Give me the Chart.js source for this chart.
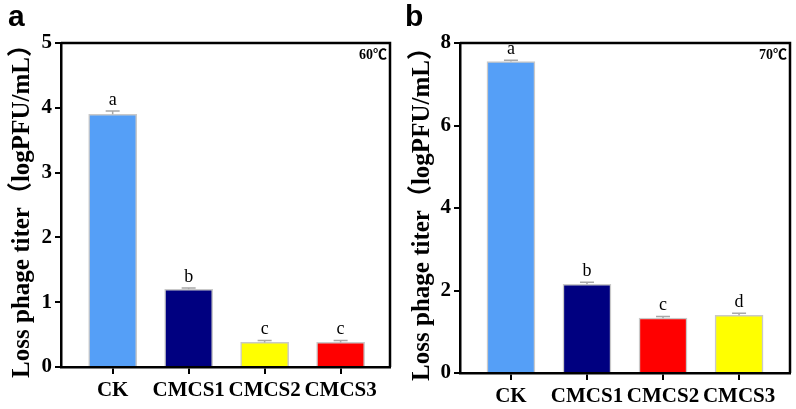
<!DOCTYPE html>
<html>
<head>
<meta charset="utf-8">
<script src="https://cdn.jsdelivr.net/npm/chart.js@4.4.1/dist/chart.umd.min.js"></script>
<style>
  body { margin: 0; background: #fff; }
  canvas { position: absolute; top: 0; }
  #chartA { left: 0; }
  #chartB { left: 400px; }
</style>
</head>
<body>
<canvas id="chartA" width="400" height="409"></canvas>
<canvas id="chartB" width="396" height="409"></canvas>
<script>
// data
const groups = ['CK', 'CMCS1', 'CMCS2', 'CMCS3'];

const values60 = [3.9, 1.2, 0.38, 0.38];
const errors60 = [0.05, 0.02, 0.03, 0.03];
const letters60 = ['a', 'b', 'c', 'c'];
const colors60 = ['#559ff7', '#000080', '#ffff00', '#ff0000'];
const ticks60 = [0, 1, 2, 3, 4, 5];

const values70 = [7.55, 2.15, 1.33, 1.4];
const errors70 = [0.03, 0.05, 0.04, 0.05];
const letters70 = ['a', 'b', 'c', 'd'];
const colors70 = ['#559ff7', '#000080', '#ff0000', '#ffff00'];
const ticks70 = [0, 2, 4, 6, 8];

const serif = '"Liberation Serif", "Times New Roman", "Noto Sans CJK SC", serif';

const extrasPlugin = {
    id: 'extras',
    afterDatasetsDraw(chart, args, opts) {
        const ctx = chart.ctx;
        const xs = chart.scales.x;
        const ys = chart.scales.y;
        ctx.save();
        opts.values.forEach((v, i) => {
            const x = xs.getPixelForValue(i);
            const yBar = ys.getPixelForValue(v);
            const yTop = ys.getPixelForValue(v + opts.errors[i]);
            ctx.strokeStyle = '#a8a8a8';
            ctx.lineWidth = 1.5;
            ctx.beginPath();
            ctx.moveTo(x, yBar);
            ctx.lineTo(x, yTop);
            ctx.moveTo(x - 7, yTop);
            ctx.lineTo(x + 7, yTop);
            ctx.stroke();
            ctx.fillStyle = '#000';
            ctx.font = '18px ' + serif;
            ctx.textAlign = 'center';
            ctx.textBaseline = 'bottom';
            ctx.fillText(opts.letters[i], x, yTop - 2);
        });
        ctx.restore();
    },
    afterDraw(chart, args, opts) {
        const ctx = chart.ctx;
        const a = chart.chartArea;
        ctx.save();
        ctx.strokeStyle = '#000';
        ctx.lineWidth = 2.5;
        ctx.beginPath();
        ctx.moveTo(a.left, a.top);
        ctx.lineTo(a.right, a.top);
        ctx.lineTo(a.right, a.bottom);
        ctx.stroke();
        ctx.fillStyle = '#000';
        ctx.font = 'bold 14px ' + serif;
        ctx.textAlign = 'right';
        ctx.textBaseline = 'top';
        ctx.fillText(opts.temp, a.right - 3, a.top + 5);
        ctx.font = 'bold 30px "Liberation Sans", Arial, sans-serif';
        ctx.textAlign = 'left';
        ctx.fillText(opts.panel, opts.panelX, 3);
        ctx.restore();
    }
};

function makeConfig(values, errors, letters, colors, yTicks, o) {
    return {
        type: 'bar',
        data: {
            datasets: [{
                data: values.map((v, i) => ({ x: i, y: v })),
                backgroundColor: colors,
                borderColor: '#c9c9c9',
                borderWidth: 1.5,
                barThickness: 48
            }]
        },
        options: {
            responsive: false,
            animation: false,
            layout: { padding: { top: 43, right: o.right, left: 0, bottom: 0 } },
            plugins: {
                legend: { display: false },
                tooltip: { enabled: false },
                extras: { values: values, errors: errors, letters: letters, temp: o.temp, panel: o.panel, panelX: o.panelX }
            },
            scales: {
                x: {
                    type: 'linear',
                    offset: false,
                    min: o.xmin,
                    max: o.xmax,
                    afterBuildTicks: s => { s.ticks = groups.map((g, i) => ({ value: i })); },
                    afterFit: s => { s.height = o.xHeight; },
                    border: { color: '#000', width: 2.5 },
                    grid: { offset: false, drawOnChartArea: false, color: '#000', lineWidth: 2, tickLength: 7 },
                    ticks: {
                        color: '#000',
                        padding: 4,
                        maxRotation: 0,
                        autoSkip: false,
                        font: { family: serif, size: 21, weight: 'bold' },
                        callback: v => groups[v]
                    }
                },
                y: {
                    min: 0,
                    max: yTicks[yTicks.length - 1],
                    afterBuildTicks: s => { s.ticks = yTicks.map(t => ({ value: t })); },
                    afterFit: s => { s.width = o.yWidth; },
                    border: { color: '#000', width: 2.5 },
                    grid: { drawOnChartArea: false, color: '#000', lineWidth: 2, tickLength: 6 },
                    ticks: {
                        color: '#000',
                        padding: 3,
                        font: { family: serif, size: 21, weight: 'bold' }
                    },
                    title: {
                        display: true,
                        text: 'Loss phage titer（logPFU/mL）',
                        color: '#000',
                        padding: { top: 8, bottom: 0 },
                        font: { family: serif, size: 25, weight: 'bold' }
                    }
                }
            }
        },
        plugins: [extrasPlugin]
    };
}

const chartA = new Chart(document.getElementById('chartA'),
    makeConfig(values60, errors60, letters60, colors60, ticks60,
        { right: 10, xHeight: 42, yWidth: 61, xmin: -0.68, xmax: 3.65, temp: '60℃', panel: 'a', panelX: 8 }));

const chartB = new Chart(document.getElementById('chartB'),
    makeConfig(values70, errors70, letters70, colors70, ticks70,
        { right: 6, xHeight: 36, yWidth: 60, xmin: -0.67, xmax: 3.67, temp: '70℃', panel: 'b', panelX: 5 }));
</script>
</body>
</html>
